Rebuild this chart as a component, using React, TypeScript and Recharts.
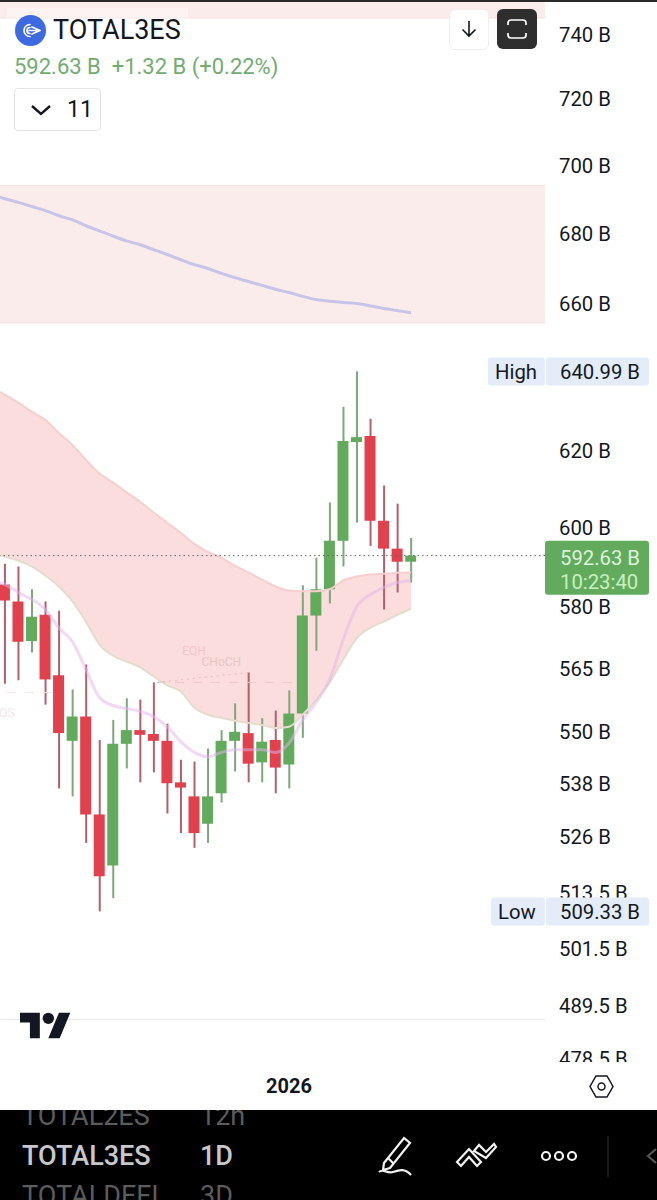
import React from 'react';
import {
  Area,
  Bar,
  Cell,
  ComposedChart,
  Line,
  ReferenceArea,
  ReferenceDot,
  ReferenceLine,
  XAxis,
  YAxis,
} from 'recharts';

const FONT = 'Roboto, sans-serif';
const GREEN = '#62ab5c';
const RED = '#e0414c';
const GREEN_WICK = '#7fa67c';
const RED_WICK = '#b35f6c';
const INK = '#131722';

// candles, oldest first, in billions
const opens = [585.4, 581.2, 571.5, 577.9, 563.2, 547.7, 553.4, 530.8, 519.4, 547.0, 550.2, 549.3, 547.7, 538.1, 534.9, 528.7, 535.6, 547.7, 549.5, 542.7, 547.9, 542.2, 554.1, 577.7, 584.2, 596.4, 622.0, 623.6, 601.5, 594.4, 591.1];
const highs = [590.6, 589.9, 584.2, 581.2, 578.9, 559.8, 565.8, 547.9, 552.6, 557.7, 557.4, 561.5, 551.7, 543.3, 542.9, 545.9, 550.2, 556.5, 563.9, 553.0, 554.8, 559.6, 585.2, 592.1, 606.2, 631.4, 640.99, 628.2, 610.6, 605.9, 597.1];
const lows = [561.2, 562.0, 568.7, 556.2, 536.7, 534.9, 524.4, 509.33, 512.2, 541.3, 538.1, 540.4, 531.0, 526.6, 523.3, 524.4, 533.5, 540.6, 538.1, 538.1, 535.6, 536.7, 548.4, 569.1, 580.7, 589.9, 601.0, 595.1, 579.2, 583.4, 585.9];
const closes = [581.4, 571.3, 577.4, 562.2, 549.5, 553.4, 530.8, 517.0, 547.0, 550.2, 549.1, 547.7, 537.9, 536.9, 526.6, 534.9, 547.7, 549.8, 542.4, 547.5, 541.5, 554.1, 577.7, 584.2, 596.4, 622.3, 623.3, 601.5, 594.4, 591.1, 592.63];

// overlays start one bar earlier, off the left edge
const bandUpper = [636.6, 634.7, 632.5, 630.1, 627.9, 624.4, 621.2, 617.3, 613.7, 611.4, 608.8, 606.4, 603.6, 601.0, 598.4, 595.6, 593.6, 592.1, 590.1, 588.4, 586.6, 584.9, 583.9, 583.7, 583.7, 584.2, 586.4, 587.4, 587.9, 588.1, 588.3, 588.4];
const bandLower = [593.4, 592.4, 591.4, 589.9, 587.6, 584.9, 581.2, 576.2, 570.6, 567.9, 566.5, 565.1, 562.9, 560.8, 559.3, 555.5, 553.8, 553.1, 552.4, 551.9, 551.4, 550.7, 551.0, 553.8, 557.4, 561.5, 567.0, 572.2, 574.7, 576.2, 577.9, 579.4];
const fastMa = [586.4, 585.4, 583.4, 581.7, 579.2, 574.7, 571.3, 564.6, 557.9, 556.0, 555.3, 554.6, 553.4, 551.0, 547.5, 545.0, 544.0, 545.0, 545.6, 545.6, 545.6, 545.0, 547.2, 552.6, 556.7, 562.2, 571.8, 579.9, 582.9, 584.7, 585.9, 586.4];
const slowMa = [691.1, 689.9, 688.8, 687.6, 686.4, 684.9, 683.7, 682.0, 680.5, 679.0, 677.6, 676.5, 675.1, 673.7, 672.2, 670.8, 669.7, 668.3, 667.1, 666.0, 664.9, 663.8, 662.9, 661.8, 660.9, 660.4, 660.1, 659.8, 659.1, 658.4, 657.8, 657.2];

const axisTicks = [740, 720, 700, 680, 660, 620, 600, 580, 565, 550, 538, 526, 513.5, 501.5, 489.5, 478.5];
const lastPrice = 592.63;
const highPrice = 640.99;
const lowPrice = 509.33;
const priceDomain = [477.7, 750.8];
const barDomain = [-0.347, 39.9];

const rows = bandUpper.map((upper, i) => ({
  index: i - 1,
  band: [bandLower[i], upper],
  upper,
  lower: bandLower[i],
  fast: fastMa[i],
  slow: slowMa[i],
  open: i > 0 ? opens[i - 1] : null,
  high: i > 0 ? highs[i - 1] : null,
  low: i > 0 ? lows[i - 1] : null,
  close: i > 0 ? closes[i - 1] : null,
}));

const wickRange = (d: any) => (d.open == null ? null : [d.low, d.high]);
const bodyRange = (d: any) => (d.open == null ? null : [Math.min(d.open, d.close), Math.max(d.open, d.close)]);
const isUp = (d: any) => d.close >= d.open;

const PriceTick = ({ y, payload }: any) => {
  const v = payload.value;
  if (v === lastPrice) {
    return (
      <g fontFamily={FONT} fontSize={20.3}>
        <rect x={545} y={y - 15} width={104} height={54} rx={3} fill={GREEN} />
        <text x={560} y={y + 2} dominantBaseline="central" fill="#dff3dc">592.63 B</text>
        <text x={560} y={y + 26} dominantBaseline="central" fill="#c9efc2">10:23:40</text>
      </g>
    );
  }
  if (v === highPrice || v === lowPrice) {
    const isHigh = v === highPrice;
    const left = isHigh ? 488 : 491;
    return (
      <g fontFamily={FONT} fontSize={20.3} fill={INK}>
        <rect x={left} y={y - 14} width={545 - left} height={28} rx={3} fill="#e3ecf8" />
        <rect x={546} y={y - 14} width={103} height={28} rx={3} fill="#e3ecf8" />
        <text x={left + 7} y={y + 1} dominantBaseline="central">{isHigh ? 'High' : 'Low'}</text>
        <text x={560} y={y + 1} dominantBaseline="central">{v.toFixed(2)} B</text>
      </g>
    );
  }
  return (
    <text x={559} y={y + 1} dominantBaseline="central" fontFamily={FONT} fontSize={20.3} fill={INK} clipPath="url(#priceClip)">
      {v} B
    </text>
  );
};

const YearTick = ({ x, y }: any) => (
  <text x={x} y={y + 16} textAnchor="middle" dominantBaseline="central" fontFamily={FONT} fontSize={20} fontWeight={700} fill={INK}>
    2026
  </text>
);

const Header = () => (
  <>
    <div style={{ position: 'absolute', left: 0, top: 0, width: 657, height: 2, background: '#2a2a2a' }} />
    <div style={{ position: 'absolute', left: 7, top: 8, width: 181, height: 10, background: 'rgba(255,255,255,0.45)' }} />
    <svg style={{ position: 'absolute', left: 15, top: 15 }} width={31} height={31} viewBox="0 0 31 31">
      <circle cx={15.5} cy={15.5} r={15.5} fill="#3d6ae0" />
      <path d="M15 9.5a6 6 0 1 0 0 12M15 12.500a3 3 0 1 0 0 6M14 15.500h11M17 12l8 3.500M17 19l8-3.500" fill="none" stroke="#fff" strokeWidth={1.7} strokeLinecap="round" />
    </svg>
    <div style={{ position: 'absolute', left: 53, top: 15, fontSize: 27, lineHeight: '30px', color: INK }}>TOTAL3ES</div>
    <div style={{ position: 'absolute', left: 14, top: 54, fontSize: 22, lineHeight: '26px', color: '#71ac71', whiteSpace: 'pre' }}>
      592.63 B  +1.32 B (+0.22%)
    </div>
    <div style={{ position: 'absolute', left: 14, top: 88, width: 85, height: 41, border: '1px solid #e2e2e2', borderRadius: 4, background: '#fff' }}>
      <svg style={{ position: 'absolute', left: 15, top: 14 }} width={22} height={14} viewBox="0 0 22 14">
        <path d="M2 3l9 8 9-8" fill="none" stroke={INK} strokeWidth={2.4} />
      </svg>
      <div style={{ position: 'absolute', left: 52, top: 7, fontSize: 23, lineHeight: '28px', color: INK }}>11</div>
    </div>
    <div style={{ position: 'absolute', left: 449, top: 9, width: 38, height: 39, border: '1px solid #eeeeee', borderRadius: 6, background: '#fff' }}>
      <svg style={{ position: 'absolute', left: 9, top: 9 }} width={20} height={20} viewBox="0 0 20 20">
        <path d="M10 2v15M3.500 10.500L10 17l6.500-6.500" fill="none" stroke={INK} strokeWidth={1.6} />
      </svg>
    </div>
    <div style={{ position: 'absolute', left: 497, top: 9, width: 40, height: 40, borderRadius: 6, background: '#2e2e2e' }}>
      <svg style={{ position: 'absolute', left: 9, top: 9 }} width={22} height={22} viewBox="0 0 22 22">
        <path d="M2 7V5a3 3 0 0 1 3-3h12a3 3 0 0 1 3 3v2M2 15v2a3 3 0 0 0 3 3h12a3 3 0 0 0 3-3v-2" fill="none" stroke="#fff" strokeWidth={1.7} />
      </svg>
    </div>
  </>
);

const Footer = () => (
  <>
    <svg style={{ position: 'absolute', left: 20, top: 1007 }} width={51} height={36} viewBox="0 0 36 25.4">
      <path d="M14 22H7V11H0V4h14v18zM28 22h-8l7.5-18h8L28 22z" fill="#131722" />
      <circle cx={20} cy={8} r={4} fill="#131722" />
    </svg>
    <svg style={{ position: 'absolute', left: 589, top: 1074 }} width={25} height={25} viewBox="0 0 25 25">
      <path d="M7 2h11l6 10.500-6 10.500H7L1 12.500z" fill="none" stroke={INK} strokeWidth={1.5} />
      <circle cx={12.5} cy={12.5} r={3.5} fill="none" stroke={INK} strokeWidth={1.5} />
    </svg>
    <div style={{ position: 'absolute', left: 0, top: 1110, width: 657, height: 90, background: '#000', overflow: 'hidden', fontFamily: FONT }}>
      <div style={{ position: 'absolute', left: 22, top: -9, fontSize: 27, lineHeight: '30px', color: '#5c5c5c' }}>TOTAL2ES</div>
      <div style={{ position: 'absolute', left: 200, top: -9, fontSize: 27, lineHeight: '30px', color: '#5c5c5c' }}>12h</div>
      <div style={{ position: 'absolute', left: 22, top: 31, fontSize: 27, fontWeight: 500, lineHeight: '30px', color: '#c8c8c8' }}>TOTAL3ES</div>
      <div style={{ position: 'absolute', left: 200, top: 31, fontSize: 27, fontWeight: 500, lineHeight: '30px', color: '#c8c8c8' }}>1D</div>
      <div style={{ position: 'absolute', left: 22, top: 71, fontSize: 27, lineHeight: '30px', color: '#5c5c5c' }}>TOTALDEFI</div>
      <div style={{ position: 'absolute', left: 200, top: 71, fontSize: 27, lineHeight: '30px', color: '#5c5c5c' }}>3D</div>
      <svg style={{ position: 'absolute', left: 0, top: 0 }} width={657} height={90} viewBox="0 0 657 90">
        <g fill="none" stroke="#f2f2f2" strokeWidth={2.2}>
          <path d="M384 53l20-25 6 5-20 25-7 2zM388 48l6 6M379 62c4-4 8 2 14 0s12-4 18 3" />
          <path d="M457 52l12-13 12 13-4 4-8-9-8 9zM474 41l5-6 7 7 8-8 2 3-10 11z" />
          <circle cx={546} cy={46} r={4} />
          <circle cx={559} cy={46} r={4} />
          <circle cx={572} cy={46} r={4} />
          <path d="M656 39l-8 7 8 7" stroke="#555" />
        </g>
        <path d="M608 26v41" stroke="#333" strokeWidth={1} />
      </svg>
    </div>
  </>
);

export default function App() {
  return (
    <div style={{ position: 'relative', width: 657, height: 1200, background: '#fff', fontFamily: FONT, overflow: 'hidden' }}>
      <style>{'body{margin:0}'}</style>
      <ComposedChart width={657} height={1200} data={rows} margin={{ top: 0, right: 0, bottom: 90, left: 0 }}>
        <defs>
          <clipPath id="priceClip">
            <rect x={0} y={0} width={657} height={1062} />
          </clipPath>
        </defs>
        <XAxis dataKey="index" type="number" domain={barDomain} allowDataOverflow ticks={[21]} height={48} tick={<YearTick />} tickLine={false} axisLine={false} interval={0} />
        <XAxis xAxisId="wick" dataKey="index" type="number" domain={barDomain} allowDataOverflow hide />
        <XAxis xAxisId="body" dataKey="index" type="number" domain={barDomain} allowDataOverflow hide />
        <YAxis
          orientation="right"
          width={112}
          scale="log"
          domain={priceDomain}
          allowDataOverflow
          ticks={[...axisTicks, lastPrice, highPrice, lowPrice]}
          interval={0}
          tick={<PriceTick />}
          tickLine={false}
          axisLine={false}
        />

        <ReferenceArea y1={654.4} y2={693.8} fill="#f9ecea" fillOpacity={1} stroke="none" />
        <ReferenceLine y={654.4} stroke="#f6dcd8" />
        <ReferenceLine y={693.8} stroke="#f6e2de" />
        <ReferenceArea y1={745.1} y2={750.8} fill="#f9ecea" fillOpacity={1} stroke="none" />
        <ReferenceLine y={745.1} stroke="#f6dcd8" />
        <ReferenceLine y={486.4} stroke="#e6e6e6" />
        <ReferenceLine segment={[{ x: -0.35, y: 519.6 }, { x: 6.67, y: 519.6 }]} stroke="#f8e6ee" strokeWidth={1.5} />
        <ReferenceLine segment={[{ x: 0.17, y: 559.1 }, { x: 3.5, y: 559.1 }]} stroke="#f1e8e8" strokeDasharray="9 9" />

        <Bar xAxisId="wick" dataKey={wickRange} barSize={2} isAnimationActive={false}>
          {rows.map((d) => (
            <Cell key={d.index} fill={isUp(d) ? GREEN_WICK : RED_WICK} />
          ))}
        </Bar>
        <Bar xAxisId="body" dataKey={bodyRange} barSize={11} isAnimationActive={false}>
          {rows.map((d) => (
            <Cell key={d.index} fill={isUp(d) ? GREEN : RED} />
          ))}
        </Bar>

        <Area dataKey="band" stroke="none" fill="#e84a4a" fillOpacity={0.19} type="monotone" isAnimationActive={false} dot={false} activeDot={false} />
        <Line dataKey="upper" stroke="#f8cfcf" strokeWidth={2} type="monotone" dot={false} activeDot={false} isAnimationActive={false} />
        <Line dataKey="lower" stroke="#e4dccd" strokeWidth={2} type="monotone" dot={false} activeDot={false} isAnimationActive={false} />
        <Line dataKey="fast" stroke="#e4b4ec" strokeOpacity={0.5} strokeWidth={3} type="monotone" dot={false} activeDot={false} isAnimationActive={false} />
        <Line dataKey="slow" stroke="#c8c4e8" strokeWidth={3} type="monotone" dot={false} activeDot={false} isAnimationActive={false} />

        <ReferenceLine segment={[{ x: 11.25, y: 561.5 }, { x: 21.5, y: 561.5 }]} stroke="#f1c6c6" strokeDasharray="9 9" />
        <ReferenceLine segment={[{ x: 11.25, y: 561.5 }, { x: 18.1, y: 563.9 }]} stroke="#e9bcbc" strokeDasharray="2 4" />
        <ReferenceDot x={13.98} y={569.1} r={0} fill="none" stroke="none" label={{ value: 'EQH', fill: '#f5c6c8', fontSize: 12 }} />
        <ReferenceDot x={16} y={566.5} r={0} fill="none" stroke="none" label={{ value: 'CHoCH', fill: '#e6c6c6', fontSize: 12 }} />
        <ReferenceDot x={0.17} y={554.3} r={0} fill="none" stroke="none" label={{ value: 'OS', fill: '#f4e7e7', fontSize: 13 }} />

        <ReferenceLine y={lastPrice} stroke="#666" strokeDasharray="1.5 3" />
      </ComposedChart>
      <Header />
      <Footer />
    </div>
  );
}
